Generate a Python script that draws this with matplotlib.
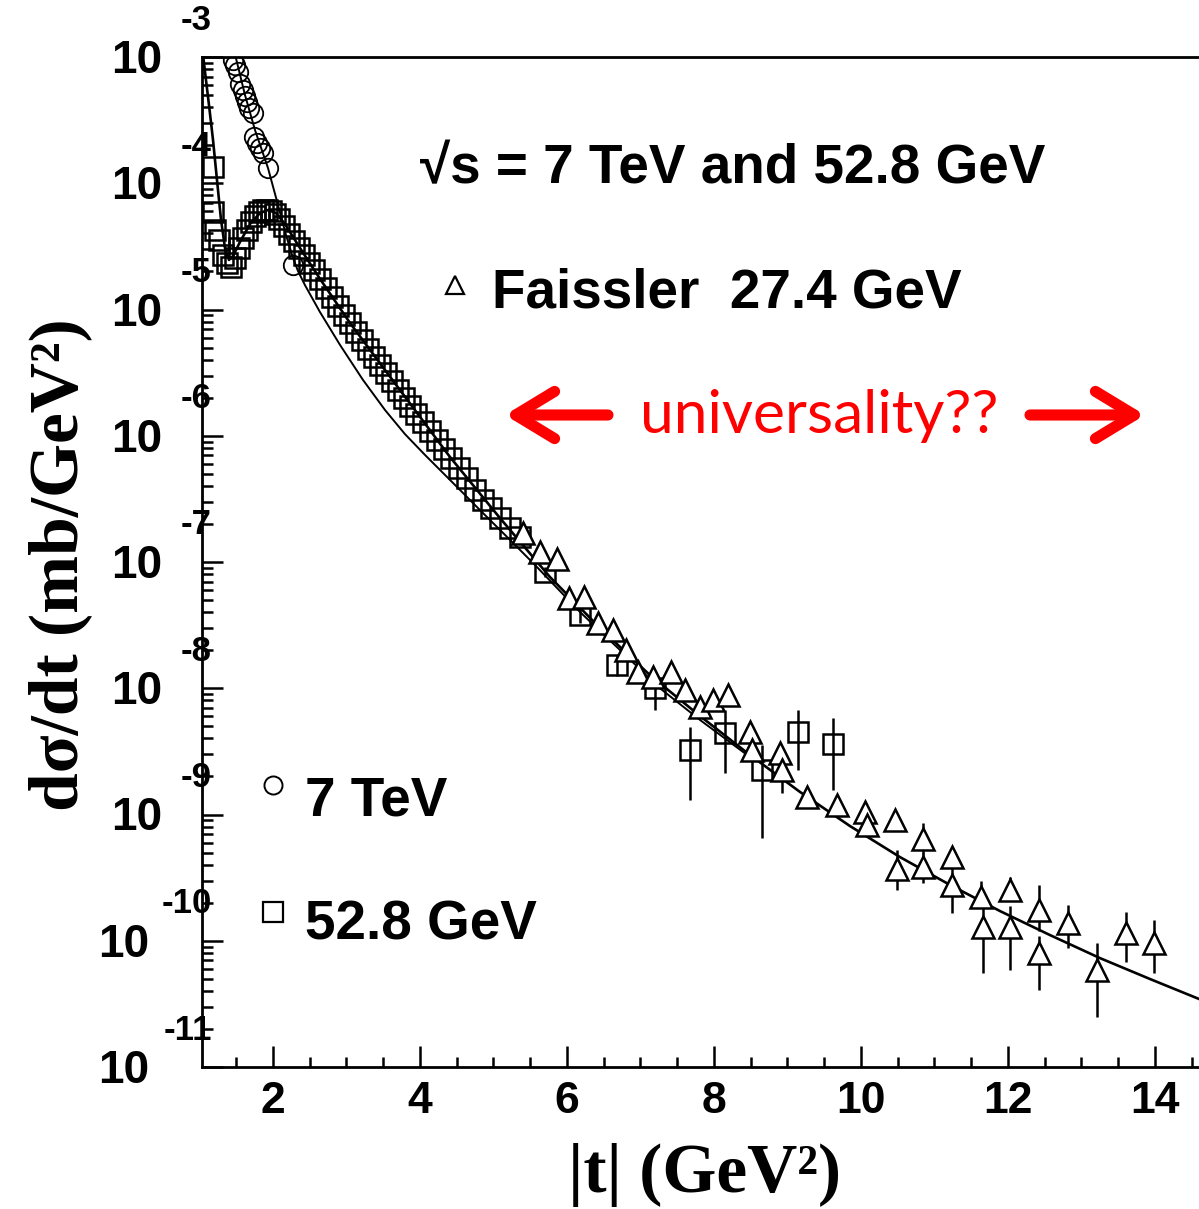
import numpy as np
import matplotlib
matplotlib.use("Agg")
import matplotlib.pyplot as plt
from matplotlib import transforms
from matplotlib.lines import Line2D

# ---------------- data ----------------
# 7 TeV (circles)
t_7tev = [1.45, 1.48, 1.52, 1.55, 1.59, 1.62, 1.65, 1.67, 1.73, 1.74, 1.78, 1.82, 1.86, 1.93, 2.27]
ds_7tev = [9.4e-4, 8.65e-4, 7.60e-4, 6.11e-4, 5.48e-4, 4.91e-4, 4.41e-4, 3.94e-4, 3.60e-4,
           2.32e-4, 2.08e-4, 1.90e-4, 1.74e-4, 1.32e-4, 2.25e-5]

# 52.8 GeV (squares)
t_528 = [1.18, 1.18, 1.21, 1.27, 1.32, 1.37, 1.43, 1.48, 1.54, 1.59, 1.65, 1.70, 1.76, 1.81,
         1.86, 1.92, 1.97, 2.03, 2.08, 2.15, 2.22, 2.29, 2.35, 2.42, 2.49, 2.56, 2.64, 2.72,
         2.80, 2.88, 2.97, 3.05, 3.13, 3.21, 3.29, 3.37, 3.46, 3.54, 3.62, 3.70, 3.78, 3.86,
         3.95, 4.04, 4.14, 4.23, 4.33, 4.42, 4.53, 4.64, 4.75, 4.86, 4.97, 5.09, 5.22, 5.36,
         5.70, 6.18, 6.68, 7.20, 7.67, 8.15, 8.65, 9.14, 9.62]
ds_528 = [1.35e-4, 5.92e-5, 4.27e-5, 3.55e-5, 2.70e-5, 2.33e-5, 2.17e-5, 2.56e-5, 3.07e-5,
          3.68e-5, 4.27e-5, 4.93e-5, 5.51e-5, 5.92e-5, 6.14e-5, 6.14e-5, 6.03e-5, 5.70e-5,
          5.21e-5, 4.58e-5, 3.96e-5, 3.49e-5, 3.07e-5, 2.70e-5, 2.33e-5, 2.06e-5, 1.75e-5,
          1.48e-5, 1.26e-5, 1.07e-5, 9.04e-6, 7.82e-6, 6.64e-6, 5.73e-6, 4.86e-6, 4.21e-6,
          3.63e-6, 3.14e-6, 2.72e-6, 2.30e-6, 1.99e-6, 1.72e-6, 1.49e-6, 1.29e-6, 1.09e-6,
          9.25e-7, 7.85e-7, 6.67e-7, 5.56e-7, 4.62e-7, 3.72e-7, 3.10e-7, 2.68e-7, 2.23e-7,
          1.86e-7, 1.58e-7, 8.34e-8, 3.80e-8, 1.53e-8, 1.00e-8, 3.24e-9, 4.43e-9, 2.25e-9,
          4.50e-9, 3.61e-9]
# error-bar ends for the squares with visible errors (t, low, high)
err_528_t = [5.70, 6.18, 6.68, 7.20, 7.67, 8.15, 8.65, 9.14, 9.62]
err_528_lo = [7.6e-8, 3.3e-8, 1.25e-8, 6.7e-9, 1.30e-9, 2.13e-9, 6.52e-10, 2.25e-9, 1.56e-9]
err_528_hi = [9.1e-8, 4.3e-8, 1.85e-8, 1.3e-8, 4.93e-9, 6.73e-9, 3.55e-9, 6.73e-9, 5.81e-9]

# Faissler 27.4 GeV (triangles)
t_fa = [5.40, 5.63, 5.86, 6.03, 6.23, 6.42, 6.63, 6.80, 6.97, 7.17, 7.42, 7.61, 7.81, 7.99,
        8.19, 8.49, 8.52, 8.90, 8.93, 9.27, 9.67, 10.05, 10.08, 10.46, 10.49, 10.84, 10.84,
        11.24, 11.24, 11.63, 11.66, 12.03, 12.03, 12.42, 12.42, 12.82, 13.21, 13.61, 13.99]
ds_fa = [1.70e-7, 1.20e-7, 1.06e-7, 5.19e-8, 5.28e-8, 3.29e-8, 2.89e-8, 2.01e-8, 1.35e-8,
         1.23e-8, 1.35e-8, 9.68e-9, 7.10e-9, 8.07e-9, 8.85e-9, 4.50e-9, 3.24e-9, 3.07e-9,
         2.25e-9, 1.38e-9, 1.19e-9, 1.05e-9, 8.26e-10, 9.04e-10, 3.70e-10, 6.40e-10, 3.84e-10,
         4.60e-10, 2.77e-10, 2.22e-10, 1.29e-10, 2.52e-10, 1.29e-10, 1.75e-10, 8.0e-11,
         1.38e-10, 5.86e-11, 1.15e-10, 9.6e-11]
fa_lo = [1.6e-7, 1.13e-7, 1.0e-7, 4.9e-8, 5.0e-8, 3.1e-8, 2.7e-8, 1.9e-8, 1.27e-8, 1.16e-8,
         1.27e-8, 9.0e-9, 6.6e-9, 7.5e-9, 8.2e-9, 4.1e-9, 2.9e-9, 2.8e-9, 1.48e-9, 1.25e-9,
         1.08e-9, 9.5e-10, 7.5e-10, 8.2e-10, 2.52e-10, 4.9e-10, 2.86e-10, 4.1e-10, 1.66e-10,
         2.0e-10, 5.56e-11, 2.2e-10, 5.86e-11, 1.2e-10, 4.07e-11, 8.77e-11, 2.49e-11, 6.8e-11,
         5.56e-11]
fa_hi = [1.8e-7, 1.27e-7, 1.12e-7, 5.5e-8, 5.6e-8, 3.5e-8, 3.1e-8, 2.13e-8, 1.43e-8, 1.30e-8,
         1.43e-8, 1.03e-8, 7.6e-9, 8.6e-9, 9.5e-9, 4.9e-9, 3.6e-9, 3.35e-9, 2.9e-9, 1.5e-9,
         1.30e-9, 1.15e-9, 9.0e-10, 9.9e-10, 5.24e-10, 8.57e-10, 5.0e-10, 5.1e-10, 3.8e-10,
         3.0e-10, 1.99e-10, 3.2e-10, 1.9e-10, 2.77e-10, 1.1e-10, 1.92e-10, 9.6e-11, 1.69e-10,
         1.46e-10]

# model curves
t_curve7 = [1.469, 1.619, 1.755, 1.932, 2.068, 2.177, 2.272, 2.340, 2.435, 2.639, 2.912,
            3.224, 3.524, 3.796, 4.068, 4.408, 4.816, 5.265, 5.592, 6.177, 6.721, 7.265,
            7.810, 8.490]
ds_curve7 = [1.135e-3, 5.0e-4, 2.64e-4, 1.32e-4, 6.73e-5, 3.89e-5, 2.56e-5, 2.02e-5, 1.56e-5,
             9.55e-6, 5.24e-6, 2.77e-6, 1.60e-6, 1.03e-6, 7.05e-7, 4.47e-7, 2.58e-7, 1.42e-7,
             9.12e-8, 4.02e-8, 2.01e-8, 1.00e-8, 5.61e-9, 2.85e-9]
t_curve528 = [1.048, 1.088, 1.129, 1.184, 1.238, 1.293, 1.347, 1.401, 1.456, 1.551, 1.687,
              1.823, 1.932, 2.041, 2.163, 2.367, 2.639, 3.048, 3.728, 4.408, 5.088, 5.769,
              6.449, 7.129, 7.810, 8.490, 9.170, 9.850, 10.531, 11.211, 11.891, 12.571,
              13.252, 13.932, 14.599]
ds_curve528 = [1.04e-3, 6.58e-4, 4.17e-4, 2.20e-4, 1.06e-4, 5.12e-5, 3.07e-5, 2.47e-5, 2.65e-5,
               3.43e-5, 4.75e-5, 5.81e-5, 6.14e-5, 5.81e-5, 4.75e-5, 3.07e-5, 1.75e-5, 7.82e-6,
               2.30e-6, 6.79e-7, 2.23e-7, 7.60e-8, 3.00e-8, 1.27e-8, 6.03e-9, 2.96e-9, 1.51e-9,
               8.11e-10, 4.60e-10, 2.77e-10, 1.72e-10, 1.11e-10, 7.29e-11, 4.98e-11, 3.46e-11]

x_ticks = [2, 4, 6, 8, 10, 12, 14]
y_exponents = [-3, -4, -5, -6, -7, -8, -9, -10, -11]

# ---------------- figure ----------------
W, H = 1199, 1209
fig = plt.figure(figsize=(W / 100, H / 100), dpi=100)
ax = fig.add_axes([202 / W, 1 - 1067 / H, 997 / W, 1010 / H])
ax.set_yscale("log")
ax.set_xlim(1.034, 14.6)
ax.set_ylim(1e-11, 1e-3)

sans = ["Liberation Sans", "DejaVu Sans"]
serif = ["Liberation Serif", "DejaVu Serif"]

# curves
ax.plot(t_curve528, ds_curve528, color="black", lw=1.9, zorder=2)
ax.plot(t_curve7, ds_curve7, color="black", lw=1.4, zorder=2)

# error bars
ax.vlines(err_528_t, err_528_lo, err_528_hi, color="black", lw=1.8, zorder=3)
ax.vlines(t_fa, fa_lo, fa_hi, color="black", lw=1.8, zorder=3)

# markers
ax.plot(t_528, ds_528, ls="none", marker="s", ms=14.5, mfc="none", mec="black", mew=1.8, zorder=4)
ax.plot(t_fa, ds_fa, ls="none", marker="^", ms=15.5, mfc="white", mec="black", mew=1.8, zorder=4)
ax.plot(t_7tev, ds_7tev, ls="none", marker="o", ms=14, mfc="none", mec="black", mew=1.3,
        zorder=4)

# spines / ticks
for s in ["top", "left", "bottom"]:
    ax.spines[s].set_linewidth(2)
ax.spines["right"].set_visible(False)
ax.set_xticks(x_ticks)
ax.set_xticks(np.arange(1.5, 14.6, 0.5), minor=True)
ax.tick_params(axis="x", which="major", direction="in", length=15, width=1.8, pad=10,
               labelsize=32, top=False)
ax.tick_params(axis="x", which="minor", direction="in", length=7, width=1.8, top=False)
ax.tick_params(axis="y", which="major", direction="in", length=15, width=1.8, labelleft=False)
ax.tick_params(axis="y", which="minor", direction="in", length=8, width=1.8, labelleft=False)
ax.yaxis.set_minor_locator(matplotlib.ticker.LogLocator(base=10, subs=np.arange(2, 10)))
ax.yaxis.set_minor_formatter(matplotlib.ticker.NullFormatter())
ax.set_xticklabels([str(v) for v in x_ticks])
for lab in ax.get_xticklabels():
    lab.set_family(sans)
    lab.set_weight("bold")

# y tick labels in ROOT style
blend = transforms.blended_transform_factory(ax.transAxes, ax.transData)
t10 = transforms.offset_copy(blend, fig=fig, x=0, y=-4, units="dots")
texp = transforms.offset_copy(blend, fig=fig, x=0, y=37, units="dots")
for k in y_exponents:
    x10 = (162 - 202) / 997 if k > -10 else (149 - 202) / 997
    ax.text(x10, 10.0 ** k, "10", transform=t10, ha="right", va="center", fontsize=33,
            fontweight="bold", family=sans, clip_on=False)
    ax.text((212 - 202) / 997, 10.0 ** k, str(k), transform=texp, ha="right", va="center",
            fontsize=25, fontweight="bold", family=sans, clip_on=False)

# axis labels
fig.text(60 / W, 1 - 565 / H, "dσ/dt (mb/GeV²)", rotation=90, ha="center", va="center",
         fontsize=50, fontweight="bold", family=serif)
fig.text(705 / W, 1 - 1175 / H, "|t| (GeV²)", ha="center", va="center",
         fontsize=50, fontweight="bold", family=serif)

# annotations
fig.text(420 / W, 1 - 183 / H, "√s = 7 TeV and 52.8 GeV", ha="left", va="baseline",
         fontsize=39.5, fontweight="bold", family=sans)
fig.text(492 / W, 1 - 308 / H, "Faissler  27.4 GeV", ha="left", va="baseline",
         fontsize=39.5, fontweight="bold", family=sans)
fig.add_artist(Line2D([455 / W], [1 - 285 / H], transform=fig.transFigure, ls="none",
                      marker="^", ms=13, mfc="white", mec="black", mew=1.6))
fig.text(640 / W, 1 - 433 / H, "universality??", ha="left", va="baseline",
         fontsize=43.5, color="#ff0000", family=["Lato", "DejaVu Sans"])
arrow_kw = dict(arrowstyle="->,head_length=2.8,head_width=1.7", color="#ff0000", lw=8,
                capstyle="round", joinstyle="round", mutation_scale=10, shrinkA=0, shrinkB=0)
ax.annotate("", xy=(505 / W, 1 - 415 / H), xytext=(608 / W, 1 - 415 / H),
            xycoords="figure fraction", textcoords="figure fraction",
            arrowprops=arrow_kw)
ax.annotate("", xy=(1145 / W, 1 - 415 / H), xytext=(1030 / W, 1 - 415 / H),
            xycoords="figure fraction", textcoords="figure fraction",
            arrowprops=arrow_kw)

# legend entries
fig.add_artist(Line2D([273 / W], [1 - 785 / H], transform=fig.transFigure, ls="none",
                      marker="o", ms=13, mfc="none", mec="black", mew=1.4))
fig.text(305 / W, 1 - 815 / H, "7 TeV", ha="left", va="baseline", fontsize=39.5,
         fontweight="bold", family=sans)
fig.add_artist(Line2D([273 / W], [1 - 912 / H], transform=fig.transFigure, ls="none",
                      marker="s", ms=14, mfc="none", mec="black", mew=1.6))
fig.text(305 / W, 1 - 940 / H, "52.8 GeV", ha="left", va="baseline", fontsize=39.5,
         fontweight="bold", family=sans)

fig.savefig("out.png", dpi=100)
